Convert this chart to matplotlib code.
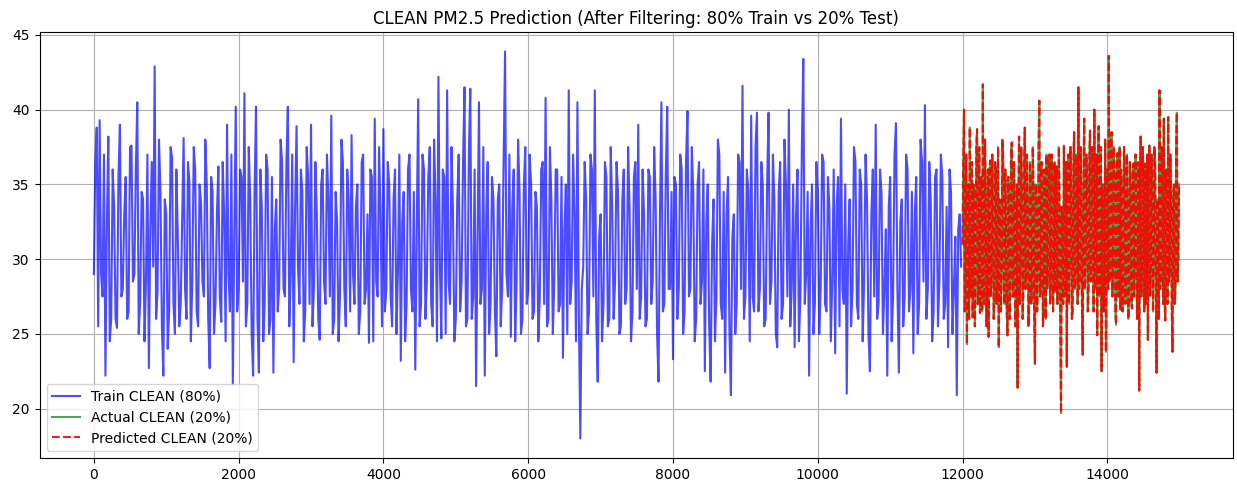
import numpy as np
import matplotlib
matplotlib.use("Agg")
import matplotlib.pyplot as plt

# valeurs (train : un point tous les 20, test : tous les 10)
train_clean = [
    29.0, 36.5, 38.8, 25.5, 39.3, 29.0, 27.5, 37.0, 22.2, 32.5, 38.2, 24.5, 26.0, 36.0, 33.5, 26.0, 25.4, 35.5, 39.0, 27.5,
    28.0, 33.0, 35.5, 26.0, 26.5, 37.5, 37.6, 28.5, 29.0, 36.0, 40.5, 25.0, 27.2, 34.5, 34.0, 24.5, 28.5, 37.0, 22.7, 32.0,
    36.5, 29.5, 42.9, 26.0, 27.8, 38.0, 34.5, 25.5, 22.2, 34.0, 33.0, 24.0, 26.5, 37.5, 36.8, 27.0, 25.0, 36.0, 31.5, 25.5,
    27.0, 32.5, 38.1, 28.0, 26.0, 36.5, 35.2, 24.5, 28.5, 37.5, 36.0, 26.5, 25.5, 35.0, 33.8, 28.5, 27.5, 38.0, 35.0, 26.0,
    22.7, 35.5, 34.5, 25.0, 27.0, 33.0, 36.2, 27.5, 25.8, 36.5, 33.0, 24.5, 39.0, 29.0, 26.5, 37.0, 21.6, 31.5, 40.2, 26.5,
    28.0, 36.0, 35.5, 28.5, 41.1, 25.5, 27.0, 37.5, 34.0, 25.0, 22.2, 34.5, 40.2, 26.0, 22.4, 36.0, 33.5, 24.5, 27.0, 37.0,
    36.0, 25.0, 26.0, 35.5, 22.4, 32.0, 34.0, 26.5, 28.0, 38.0, 36.5, 28.0, 27.5, 36.5, 40.2, 25.5, 29.0, 37.0, 23.1, 33.5,
    38.9, 29.5, 27.0, 36.0, 34.5, 24.5, 26.5, 37.5, 35.5, 27.0, 39.0, 25.5, 28.0, 36.5, 33.0, 26.0, 24.6, 35.0, 36.0, 28.5,
    27.0, 37.0, 34.0, 27.5, 39.6, 25.0, 26.0, 34.5, 32.5, 24.5, 27.5, 38.0, 36.5, 28.0, 25.5, 36.0, 34.0, 26.5, 38.3, 29.0,
    27.0, 33.5, 35.0, 25.0, 26.5, 36.5, 37.0, 27.0, 28.0, 33.0, 24.4, 36.0, 35.5, 24.5, 39.4, 28.5, 27.5, 37.5, 33.0, 25.5,
    38.7, 26.5, 28.0, 36.5, 35.0, 27.5, 25.5, 34.0, 36.0, 25.0, 29.0, 37.0, 23.2, 32.5, 34.5, 24.5, 27.0, 36.0, 37.0, 28.0,
    26.5, 34.5, 22.6, 31.5, 40.7, 25.5, 27.0, 37.0, 36.0, 26.0, 28.5, 35.5, 37.5, 27.0, 25.5, 38.0, 34.0, 24.5, 42.2, 29.5,
    24.7, 36.0, 35.5, 25.0, 41.3, 28.5, 27.0, 37.5, 33.5, 24.5, 26.0, 34.0, 37.0, 26.5, 28.5, 36.5, 41.5, 25.5, 26.0, 37.0,
    41.4, 26.0, 27.5, 36.0, 21.5, 31.0, 40.5, 27.0, 28.0, 37.5, 22.2, 33.0, 36.5, 25.0, 27.0, 35.5, 34.0, 26.5, 23.5, 34.0,
    35.0, 25.5, 28.0, 36.5, 43.9, 29.0, 27.5, 37.0, 24.8, 33.5, 36.0, 24.5, 28.5, 38.0, 34.5, 25.0, 26.0, 35.0, 37.5, 27.0,
    28.0, 37.0, 35.0, 26.0, 26.5, 34.5, 33.5, 24.5, 27.5, 36.0, 36.5, 27.0, 40.8, 25.5, 26.0, 37.5, 34.0, 25.0, 28.5, 36.0,
    36.0, 26.5, 27.0, 35.5, 23.4, 32.0, 35.0, 25.0, 41.3, 27.0, 28.5, 37.0, 33.0, 24.5, 40.5, 26.0, 18.0, 28.0, 29.5, 36.5,
    34.0, 25.0, 26.5, 37.0, 36.0, 27.5, 41.3, 26.0, 21.8, 31.5, 33.0, 24.5, 27.0, 36.5, 35.5, 25.5, 26.0, 37.5, 33.5, 26.0,
    28.5, 36.5, 34.5, 25.0, 25.5, 34.0, 36.0, 27.0, 28.0, 37.5, 33.5, 24.5, 26.5, 35.5, 36.5, 28.0, 39.0, 26.0, 27.5, 36.0,
    33.0, 25.5, 26.0, 36.0, 35.5, 27.0, 28.5, 37.5, 34.0, 25.0, 21.8, 33.0, 40.5, 26.5, 27.0, 35.5, 40.2, 28.0, 28.0, 34.5,
    23.3, 35.5, 35.0, 26.0, 28.0, 37.0, 36.0, 25.0, 26.5, 36.5, 39.9, 27.5, 28.0, 37.5, 34.5, 24.5, 26.0, 35.0, 36.5, 27.0,
    28.5, 36.0, 22.5, 32.5, 35.0, 25.5, 21.8, 31.0, 34.0, 24.5, 27.5, 38.0, 37.0, 27.0, 26.0, 34.5, 22.4, 33.0, 35.5, 25.0,
    20.9, 31.5, 33.0, 25.0, 27.0, 37.0, 36.5, 28.0, 41.6, 26.0, 27.5, 36.0, 34.5, 24.5, 39.6, 27.5, 26.5, 37.5, 39.8, 26.5,
    28.0, 36.5, 35.0, 25.5, 26.0, 35.0, 39.8, 27.0, 28.5, 37.0, 34.0, 25.0, 24.1, 34.5, 36.5, 26.0, 27.0, 38.0, 35.0, 27.5,
    40.0, 25.5, 28.0, 35.0, 24.1, 33.0, 36.0, 24.5, 27.5, 37.5, 43.4, 27.0, 29.0, 34.5, 22.2, 32.0, 35.0, 25.0, 27.0, 36.5,
    34.5, 25.0, 28.0, 37.0, 36.5, 27.0, 26.5, 35.5, 33.5, 24.5, 28.5, 36.0, 23.7, 33.5, 35.5, 25.5, 39.4, 28.0, 27.0, 35.0,
    21.0, 31.0, 34.0, 25.5, 28.0, 37.5, 36.5, 27.0, 26.0, 36.0, 35.0, 24.5, 28.5, 37.0, 34.0, 25.0, 22.5, 33.0, 36.0, 27.5,
    39.0, 26.0, 27.0, 36.0, 34.5, 25.0, 28.0, 32.0, 22.2, 33.5, 35.5, 24.5, 27.5, 37.0, 39.1, 28.0, 22.4, 32.5, 34.0, 25.5,
    27.5, 37.0, 36.0, 26.5, 28.0, 34.5, 23.7, 33.0, 35.5, 25.0, 27.0, 38.0, 36.5, 28.5, 40.3, 26.0, 28.0, 36.5, 34.0, 24.5,
    26.5, 35.5, 36.0, 25.5, 28.5, 37.0, 35.5, 26.0, 27.0, 33.5, 24.1, 36.0, 34.5, 25.0, 28.0, 31.5, 20.9, 32.0, 33.0, 29.5,
]

actual_test = [
    31.0, 36.5, 40.0, 26.5, 29.5, 37.0, 24.3, 34.5, 35.0, 26.0, 38.8, 27.5, 27.5, 36.5, 26.1, 35.0, 34.5, 25.5, 29.0, 37.5,
    38.7, 27.0, 28.0, 37.5, 26.4, 35.0, 35.5, 26.5, 41.7, 28.0, 27.0, 38.0, 33.5, 25.5, 28.0, 36.0, 24.8, 35.5, 36.6, 27.5,
    29.0, 37.0, 33.0, 26.0, 27.5, 36.5, 35.8, 27.0, 28.5, 37.5, 24.1, 34.0, 33.0, 26.5, 29.5, 38.0, 36.8, 28.0, 27.0, 36.0,
    32.5, 26.5, 24.9, 35.5, 34.0, 26.0, 29.0, 37.0, 37.8, 27.5, 27.5, 36.5, 33.0, 25.5, 28.0, 35.0, 21.4, 33.0, 38.2, 27.0,
    30.0, 37.5, 34.5, 26.0, 28.3, 36.0, 38.8, 28.0, 29.5, 37.0, 33.0, 25.5, 27.0, 36.5, 35.5, 27.0, 29.0, 37.5, 34.0, 26.0,
    23.0, 35.0, 33.5, 26.5, 29.0, 37.5, 40.6, 27.5, 28.0, 36.5, 34.5, 25.5, 26.5, 36.0, 33.0, 26.0, 37.0, 28.0, 29.0, 36.5,
    37.0, 27.0, 28.5, 37.0, 33.5, 26.5, 30.0, 36.5, 27.8, 35.0, 36.2, 27.0, 29.5, 37.5, 33.0, 25.5, 19.7, 33.5, 32.0, 27.0,
    37.6, 27.5, 29.0, 36.5, 22.8, 34.5, 37.0, 27.0, 30.5, 37.5, 34.0, 26.0, 26.5, 36.0, 38.5, 28.0, 30.0, 37.0, 34.5, 27.0,
    41.5, 28.0, 29.0, 37.5, 34.0, 26.5, 23.6, 35.0, 39.4, 28.0, 30.5, 37.0, 35.0, 26.5, 28.0, 36.5, 38.6, 28.5, 31.0, 37.5,
    33.5, 26.5, 40.0, 28.0, 29.0, 37.0, 24.9, 36.0, 38.9, 27.5, 31.0, 37.5, 22.5, 35.0, 35.0, 26.5, 29.5, 38.0, 23.8, 35.5,
    36.0, 28.0, 43.6, 28.5, 30.0, 38.0, 38.5, 27.5, 31.5, 37.5, 35.5, 26.5, 25.6, 36.0, 37.1, 27.5, 30.0, 37.5, 26.6, 36.0,
    34.5, 26.5, 29.5, 37.5, 36.1, 27.0, 30.0, 37.0, 33.5, 26.0, 28.5, 36.5, 35.0, 27.0, 26.7, 36.0, 36.4, 27.5, 30.5, 37.0,
    33.0, 26.0, 28.0, 36.5, 21.2, 33.5, 38.2, 27.5, 30.0, 37.5, 34.0, 26.5, 36.4, 27.0, 29.0, 37.0, 24.6, 35.0, 37.6, 27.5,
    29.5, 37.0, 34.0, 26.5, 30.0, 37.5, 36.4, 27.0, 22.4, 34.0, 33.0, 26.0, 41.3, 28.0, 29.0, 37.5, 35.0, 27.0, 39.4, 27.5,
    25.9, 36.0, 34.5, 27.0, 39.5, 28.5, 29.0, 37.0, 33.5, 26.5, 23.8, 34.5, 35.0, 27.0, 28.0, 37.5, 39.8, 28.5, 30.0, 35.0,
]

# la prédiction colle à la courbe réelle sur le graphique
predicted_test = list(actual_test)

train_x = np.arange(len(train_clean)) * 20
test_x = 12000 + np.arange(len(actual_test)) * 10

fig = plt.figure(figsize=(12.37, 4.86), dpi=100)
plt.plot(train_x, train_clean, label="Train CLEAN (80%)", color="blue", alpha=0.7)
plt.plot(test_x, actual_test, label="Actual CLEAN (20%)", color="green", alpha=0.7)
plt.plot(test_x, predicted_test, label="Predicted CLEAN (20%)", color="red", linestyle="--", alpha=0.9)
plt.title("CLEAN PM2.5 Prediction (After Filtering: 80% Train vs 20% Test)")
plt.legend(loc="lower left")
plt.grid(True)
plt.subplots_adjust(left=0.032, right=0.997, top=0.934, bottom=0.058)
plt.savefig("out.png", dpi=100)
